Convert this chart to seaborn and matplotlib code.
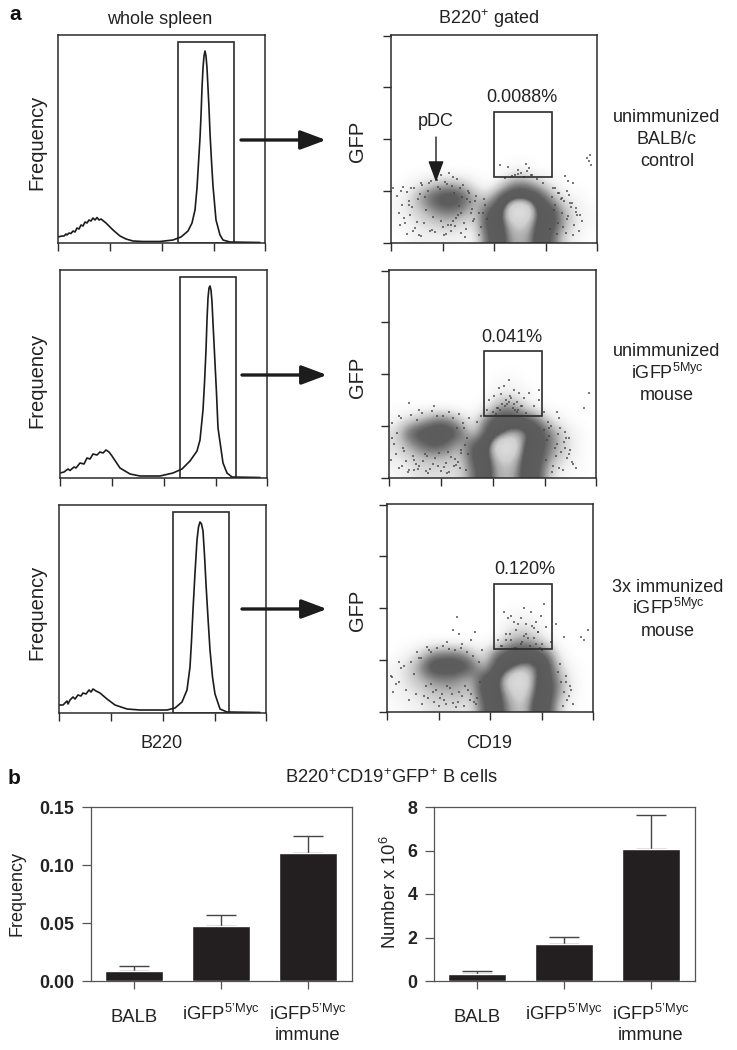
#!/usr/bin/env python3
"""Flow cytometry figure: B220 histograms, CD19/GFP density plots, summary bars."""

import matplotlib
matplotlib.use("Agg")
import matplotlib.pyplot as plt
import numpy as np
import seaborn as sns
from matplotlib.colors import LinearSegmentedColormap
from matplotlib.patches import Rectangle
from matplotlib.transforms import ScaledTranslation

# --- histograms (B220 channel, counts) ------------------------------------
HIST1_X = [0, 4, 6, 8, 9, 11, 13, 15, 17, 19, 21, 23, 25, 27, 29, 31, 33, 35, 37, 39, 41, 43, 48, 55, 62, 68, 75, 85,
           102, 115, 123, 130, 134, 137, 139, 140.5, 142, 143, 144, 145, 146, 147, 148, 149, 150, 151, 152, 153.5,
           155, 158, 162, 165, 172, 202]
HIST1_Y = [6, 7, 7, 9, 8, 10, 9.5, 12, 11, 15, 14, 18, 17, 21, 20, 23, 22, 25, 23, 25.5, 23, 24, 20, 13, 7, 4, 2, 1.5,
           1.5, 3, 6, 12, 20, 33, 55, 80, 105, 127, 155, 175, 187, 192, 187, 175, 155, 135, 110, 82,
           57, 23, 8, 3, 1, 0.5]
HIST2_X = [0, 4, 8, 10, 14, 16, 20, 24, 27, 30, 33, 37, 40, 43, 46, 49, 52, 60, 70, 80, 100, 113, 122, 130, 137, 140,
           143, 144.5, 146, 147, 148, 149, 150, 151, 152, 153, 154, 155, 156.5, 158, 163, 167, 172, 200]
HIST2_Y = [5, 6, 9, 7.5, 11, 10, 15, 14, 20, 19, 24, 23, 26, 25, 28, 26, 22, 10, 4, 2, 2, 5, 9, 17, 27, 38,
           68, 95, 128, 158, 180, 190, 192, 188, 176, 155, 135, 115, 85, 50, 15, 5, 1, 0.5]
HIST3_X = [0, 4, 8, 9, 11, 14, 16, 19, 22, 24, 27, 30, 32, 34, 37, 41, 48, 56, 68, 81, 108, 116, 123, 128, 131, 132.5,
           134, 136, 138, 139.5, 141, 142.5, 144, 145.5, 147, 149, 151, 153.5, 156, 161, 168, 201]
HIST3_Y = [8, 8, 12, 9, 13, 16, 14, 18, 17, 20, 19, 23, 21, 24, 22, 20, 14, 8, 4, 3, 3, 5, 11, 23, 46, 72,
           103, 140, 173, 186, 191, 189, 182, 158, 129, 95, 63, 36, 19, 4, 1, 0.5]
HIST_GATES = [(120, 176), (120, 176), (114, 170)]
HIST_GATE_TOP = 201

# --- density plots: rows from high GFP to low GFP, columns along CD19 ------
FLOW1_GRID = [
    [0, 0, 0, 0, 0, 0, 0, 0, 0, 0, 0, 0, 0, 0, 0, 0],
    [0, 0, 0, 0, 0, 0, 0, 0, 0, 0, 0, 0, 0, 0, 0, 0],
    [0, 0, 0, 0, 0, 0, 0, 0, 0, 0, 0, 0, 0, 0, 0, 0],
    [0, 0, 0, 0, 0, 0, 0, 0, 0, 0.8, 0.8, 0, 0, 0, 0, 0],
    [0, 0.5, 1.5, 2.5, 3, 2.5, 1, 0, 1.5, 4, 4, 2.5, 1, 0, 0, 0],
    [0.5, 1.5, 4, 5.5, 6.5, 5.5, 3, 2, 5.5, 7, 7, 6, 3, 1, 0.5, 0],
    [0.5, 1.5, 2.5, 4, 4.5, 4, 2, 5, 6.5, 10, 10, 6.5, 6, 2.5, 1, 0.3],
    [0.2, 0.8, 1.5, 2, 2.5, 1.5, 1.5, 6, 6.5, 8.4, 8.4, 6.5, 6, 3, 1, 0.3],
    [0, 0.5, 0.8, 0.8, 0.8, 0.8, 0.5, 5, 6.5, 7.8, 7.8, 6.5, 5, 1.5, 0.5, 0],
]
FLOW2_GRID = [
    [0, 0, 0, 0, 0, 0, 0, 0, 0, 0, 0, 0, 0, 0, 0, 0],
    [0, 0, 0, 0, 0, 0, 0, 0, 0.3, 0.5, 0, 0, 0, 0, 0, 0],
    [0, 0, 0, 0, 0, 0, 0, 0, 1, 1, 0.5, 0, 0, 0, 0, 0],
    [0, 0, 0, 0, 0, 0, 0, 0.5, 3.5, 3.5, 1.5, 0.3, 0, 0, 0, 0],
    [0.5, 1.5, 2.5, 4, 4, 2, 0.5, 4.5, 6, 6, 5.5, 4, 1, 0.5, 0, 0],
    [1.5, 5, 6, 6.5, 6.5, 5, 1.5, 5.5, 6.5, 7.7, 7.7, 6, 4, 1.5, 0.5, 0],
    [1.5, 3, 4.5, 5.5, 4.5, 2.5, 5.5, 6.5, 9.8, 9.8, 6.5, 6, 4, 2, 0.5, 0],
    [1, 1.5, 2.5, 2.5, 2.5, 2, 5.5, 6.5, 8.4, 8.4, 6.5, 6, 3, 1.5, 0.5, 0],
    [0.5, 1, 1.5, 1.5, 1.5, 1.5, 4.5, 6.5, 7.9, 7.9, 6.5, 5.5, 1.5, 0.5, 0.2, 0],
]
FLOW3_GRID = [
    [0, 0, 0, 0, 0, 0, 0, 0, 0, 0, 0, 0, 0, 0, 0, 0],
    [0, 0, 0, 0, 0, 0, 0, 0, 0, 0.3, 0.5, 0.3, 0, 0, 0, 0],
    [0, 0, 0, 0, 0, 0, 0, 0, 0, 1, 1.5, 1, 0, 0, 0, 0],
    [0, 0, 0, 0, 0, 0, 0, 0, 0.5, 2.5, 3.5, 2.5, 0.8, 0, 0, 0],
    [0, 0.5, 1.5, 3.5, 4, 4, 2.5, 1, 4.5, 6, 6, 6, 4.5, 0.5, 0, 0],
    [0.5, 1.5, 3.5, 6.5, 6.5, 6.5, 5.5, 2, 6, 6.5, 7.6, 7.5, 6, 1.5, 0.3, 0],
    [0.5, 1.5, 2.5, 3.5, 4, 3.5, 2.5, 6, 6.5, 9, 10, 7, 6, 3, 0.5, 0],
    [0.5, 1, 1.5, 2.5, 2.5, 3, 2, 6, 6.5, 8, 9, 6.8, 6.5, 3, 0.5, 0],
    [0.2, 0.5, 0.8, 1.5, 1.5, 1.5, 1, 5, 6.5, 7.5, 8.4, 6.5, 6, 1.5, 0.2, 0],
]
GRID_TOP = 117

# single events outside the dense clouds
FLOW1_DOTS_X = [110, 118, 128, 136, 139, 137, 125, 131, 142, 200, 199, 201, 197, 175, 178, 183, 50, 58, 62, 66, 40, 30,
                20, 10, 2, 168, 172, 180, 186, 190, 165, 177, 8, 14, 22, 72, 78, 84, 88, 60, 70, 82, 18, 28,
                6, 11, 16, 19, 23, 27, 31, 35, 38, 42, 46, 50, 54, 57, 61, 65, 69, 73, 77, 81, 85,
                9, 13, 18, 24, 29, 33, 37, 41, 47, 52, 56, 60, 63, 67, 71, 75, 79, 83,
                12, 21, 26, 34, 44, 49, 55, 64, 68, 74, 80, 16, 30, 39, 53, 62, 70, 76,
                162, 165, 169, 172, 174, 177, 181, 184, 187, 189, 192, 160, 164, 167, 171, 176, 179, 183, 186,
                163, 168, 173, 178, 182, 92, 90, 94, 96, 88, 93, 115, 122, 128, 134, 141, 147, 153]
FLOW1_DOTS_Y = [78, 76, 73, 79, 75, 72, 68, 70, 68, 88, 82, 78, 85, 67, 62, 60, 68, 70, 66, 64, 62, 60,
                55, 52, 55, 50, 45, 40, 35, 28, 55, 52, 30, 20, 12, 58, 50, 42, 30, 18, 10, 22, 38, 8,
                47, 38, 51, 28, 55, 44, 58, 33, 60, 26, 63, 22, 61, 18, 57, 25, 55, 20, 52, 34, 47,
                18, 25, 42, 15, 49, 20, 52, 13, 56, 16, 59, 12, 50, 28, 46, 14, 41, 24,
                56, 36, 21, 46, 11, 54, 9, 17, 37, 6, 30, 9, 7, 12, 8, 22, 30, 44,
                46, 38, 50, 30, 42, 24, 36, 18, 28, 12, 22, 14, 33, 9, 44, 10, 48, 8, 31,
                55, 20, 16, 27, 40, 30, 16, 38, 24, 8, 44, 65, 67, 69, 66, 68, 64, 60]
FLOW2_DOTS_X = [120, 115, 125, 110, 130, 105, 135, 100, 112, 122, 128, 140, 145, 150, 98, 118, 132, 108, 126, 60, 70,
                45, 30, 20, 80, 88, 75, 92, 160, 170, 180, 195, 200, 168, 176, 150, 155, 10, 3, 25, 65, 72,
                3, 7, 12, 17, 22, 27, 33, 38, 43, 49, 54, 59, 64, 69, 74, 79,
                5, 10, 15, 20, 25, 30, 36, 41, 46, 52, 57, 62, 67, 72, 77,
                8, 14, 19, 24, 29, 34, 39, 44, 50, 55, 60, 66, 71, 76, 2, 13, 28, 37, 48, 58, 68, 78,
                155, 158, 162, 166, 169, 172, 175, 178, 181, 184, 187, 157, 160, 164, 168, 171, 174, 177, 180, 183,
                159, 163, 167, 170, 176, 104, 109, 113, 117, 121, 125, 129, 133, 137, 107, 111, 116, 120, 124, 128, 132]
FLOW2_DOTS_Y = [98, 92, 88, 90, 85, 82, 80, 78, 84, 80, 76, 85, 72, 78, 68, 74, 72, 70, 68, 66, 64,
                72, 68, 75, 60, 56, 50, 62, 50, 60, 40, 70, 85, 66, 30, 88, 66, 62, 40, 8, 12, 25,
                55, 24, 60, 17, 63, 14, 65, 22, 67, 12, 62, 26, 60, 16, 55, 24,
                34, 10, 27, 8, 18, 12, 24, 9, 20, 7, 15, 21, 13, 28, 8,
                45, 30, 6, 22, 9, 17, 5, 14, 25, 11, 6, 19, 10, 33, 18, 12, 58, 7, 62, 5, 50, 40,
                48, 38, 52, 30, 44, 26, 36, 20, 28, 14, 10, 18, 42, 12, 34, 50, 8, 40, 24, 16,
                56, 6, 22, 10, 46, 66, 70, 74, 78, 82, 74, 68, 72, 65, 64, 68, 72, 76, 70, 66, 62]
FLOW3_DOTS_X = [118, 125, 135, 140, 145, 150, 155, 158, 160, 165, 130, 120, 128, 138, 148, 152, 142, 112, 115, 170, 178,
                195, 198, 202, 70, 66, 72, 88, 84, 75, 60, 95, 40, 30, 12, 5, 180, 185, 150, 156, 125, 135,
                4, 9, 14, 19, 24, 29, 34, 39, 44, 50, 56, 62, 68, 74, 80, 86, 92,
                6, 12, 17, 22, 27, 32, 37, 42, 47, 53, 59, 65, 71, 77, 83, 89,
                35, 41, 46, 52, 57, 63, 69, 75, 81, 87, 93, 44, 49, 55, 60, 66, 72, 78, 84, 90,
                172, 175, 178, 181, 184, 187, 174, 177, 180, 183,
                116, 120, 124, 128, 132, 136, 140, 144, 148, 152, 156, 122, 130, 138, 146, 154]
FLOW3_DOTS_Y = [100, 96, 94, 88, 100, 90, 96, 108, 85, 70, 82, 78, 90, 104, 84, 80, 74, 72, 66, 88, 75,
                75, 72, 82, 95, 82, 78, 80, 72, 68, 70, 62, 65, 60, 50, 35, 30, 22, 68, 62, 72, 68,
                36, 28, 44, 22, 50, 18, 54, 26, 60, 64, 66, 63, 62, 64, 60, 56, 50,
                20, 30, 46, 12, 38, 54, 16, 62, 10, 14, 8, 18, 10, 6, 12, 8,
                8, 14, 20, 6, 12, 24, 5, 16, 22, 10, 30, 28, 22, 18, 26, 9, 20, 26, 18, 14,
                40, 30, 20, 12, 26, 8, 48, 6, 36, 16,
                66, 72, 78, 64, 88, 70, 78, 66, 74, 80, 68, 94, 64, 76, 86, 64]
FLOW_GATES = [(104, 162, 66, 131), (95, 153, 62, 127), (108, 166, 63, 128)]
GATE_LABELS = ["0.0088%", "0.041%", "0.120%"]

DENSITY_LEVELS = [0, 1, 2.5, 4, 5, 7, 7.7, 8.3, 9.2, 10]
DENSITY_COLORS = ["#ffffff", "#eeeeee", "#c0c0c0", "#808080", "#5e5e5e", "#5a5a5a",
                  "#a8a8a8", "#cfcfcf", "#dcdcdc", "#7a7a7a"]

# --- summary bars ----------------------------------------------------------
BAR_LABELS = ["BALB", "iGFP$^{5\u2019Myc}$", "iGFP$^{5\u2019Myc}$\nimmune"]
FREQ_VALUES = [0.009, 0.047, 0.110]
FREQ_UPPER = [0.013, 0.057, 0.125]
FREQ_TICKS = [0.0, 0.05, 0.10, 0.15]
FREQ_TICK_LABELS = ["0.00", "0.05", "0.10", "0.15"]
NUM_VALUES = [0.33, 1.70, 6.05]
NUM_UPPER = [0.48, 2.03, 7.65]
NUM_TICKS = [0, 2, 4, 6, 8]

DARK = "#2b2b2b"
W, H = 737, 1050

sns.set_theme(style="ticks")
plt.rcParams["font.family"] = ["Liberation Sans", "DejaVu Sans"]
plt.rcParams["mathtext.fontset"] = "custom"
plt.rcParams["mathtext.rm"] = "Liberation Sans"
plt.rcParams["mathtext.default"] = "regular"
plt.rcParams["text.color"] = "#222222"


def px_axes(fig, left, top, right, bottom):
    """Axes placed by its pixel box (y counted from the top of the picture)."""
    return fig.add_axes([left / W, 1 - bottom / H, (right - left) / W, (bottom - top) / H])


def style_frame(ax, color=DARK, lw=1.1):
    for spine in ax.spines.values():
        spine.set_visible(True)
        spine.set_color(color)
        spine.set_linewidth(lw)


def plot_hist(fig, box, xs, ys, gate):
    ax = px_axes(fig, *box)
    sns.lineplot(x=xs, y=ys, ax=ax, color="#1c1c1c", linewidth=1.2, estimator=None, sort=False)
    ax.add_patch(Rectangle((gate[0], 0), gate[1] - gate[0], HIST_GATE_TOP, fill=False, edgecolor=DARK, lw=1.2))
    ax.set_xlim(0, 207)
    ax.set_ylim(0, 208)
    ax.set_xticks([0, 52, 104, 156, 207])
    ax.set_xticklabels([])
    ax.set_yticks([])
    ax.tick_params(axis="x", length=5.8, width=1.0, color=DARK)
    style_frame(ax)
    return ax


def plot_flow(fig, box, grid, dots_x, dots_y, gate):
    ax = px_axes(fig, *box)
    levels = np.array(DENSITY_LEVELS, dtype=float) / DENSITY_LEVELS[-1]
    cmap = LinearSegmentedColormap.from_list("flow", list(zip(levels, DENSITY_COLORS)))
    ax.imshow(grid, extent=(0, 207, 0, GRID_TOP), cmap=cmap, vmin=0, vmax=10, aspect="auto",
              interpolation="bicubic", interpolation_stage="data")
    sns.scatterplot(x=dots_x, y=dots_y, ax=ax, s=3, color="#444444", alpha=0.7, linewidth=0, marker="s")
    ax.add_patch(Rectangle((gate[0], gate[2]), gate[1] - gate[0], gate[3] - gate[2],
                           fill=False, edgecolor=DARK, lw=1.2, zorder=5))
    ax.set_xlim(0, 207)
    ax.set_ylim(0, 208)
    ax.set_xticks([0, 52, 104, 156, 207])
    ax.set_yticks([0, 52, 104, 156, 207])
    ax.set_xticklabels([])
    ax.set_yticklabels([])
    ax.tick_params(length=6, width=1.0, color=DARK)
    style_frame(ax)
    return ax


def plot_bars(fig, box, values, upper, ticks, tick_labels, ymax):
    ax = px_axes(fig, *box)
    positions = list(range(len(values)))
    err = [v * 0 for v in values], [u - v for u, v in zip(upper, values)]
    sns.barplot(x=BAR_LABELS, y=values, ax=ax, color="#231f20", saturation=1, width=0.667, zorder=3)
    ax.errorbar(positions, values, yerr=err, fmt="none", ecolor="#444444", elinewidth=1.0,
                capsize=10.8, capthick=1.0, zorder=1)
    ax.set_xlim(-0.494, 2.506)
    ax.set_ylim(0, ymax)
    ax.set_yticks(ticks)
    ax.set_yticklabels(tick_labels, fontsize=12.8, fontweight="bold", color="#222222")
    ax.set_xticks(positions)
    ax.set_xticklabels(BAR_LABELS, fontsize=13.3, color="#222222")
    ax.tick_params(axis="y", length=6.5, width=0.9, color="#555555", pad=5.5)
    ax.tick_params(axis="x", length=5.8, width=0.9, color="#555555", pad=11)
    balb = ax.get_xticklabels()[0]
    balb.set_transform(balb.get_transform() + ScaledTranslation(0, -0.05, fig.dpi_scale_trans))
    ax.set_xlabel("")
    ax.set_ylabel("")
    style_frame(ax, color="#555555", lw=0.9)
    return ax


def main():
    fig = plt.figure(figsize=(W / 100, H / 100), dpi=100, facecolor="white")

    hist_boxes = [(58, 35, 265, 243), (60, 270, 267, 478), (59, 505, 266, 713)]
    flow_boxes = [(391, 35, 597, 243), (389, 270, 596, 478), (387, 504, 593, 712)]
    plot_hist(fig, hist_boxes[0], HIST1_X, HIST1_Y, HIST_GATES[0])
    plot_hist(fig, hist_boxes[1], HIST2_X, HIST2_Y, HIST_GATES[1])
    plot_hist(fig, hist_boxes[2], HIST3_X, HIST3_Y, HIST_GATES[2])
    plot_flow(fig, flow_boxes[0], FLOW1_GRID, FLOW1_DOTS_X, FLOW1_DOTS_Y, FLOW_GATES[0])
    plot_flow(fig, flow_boxes[1], FLOW2_GRID, FLOW2_DOTS_X, FLOW2_DOTS_Y, FLOW_GATES[1])
    plot_flow(fig, flow_boxes[2], FLOW3_GRID, FLOW3_DOTS_X, FLOW3_DOTS_Y, FLOW_GATES[2])

    plot_bars(fig, (91, 807, 352, 981), FREQ_VALUES, FREQ_UPPER, FREQ_TICKS, FREQ_TICK_LABELS, 0.15)
    plot_bars(fig, (434, 807, 695, 981), NUM_VALUES, NUM_UPPER, NUM_TICKS, [str(t) for t in NUM_TICKS], 8)

    # overlay in picture pixels for the annotation layer
    over = fig.add_axes([0, 0, 1, 1], facecolor="none")
    over.set_xlim(0, W)
    over.set_ylim(H, 0)
    over.axis("off")

    def label(x, y, s, size=13, **kw):
        over.text(x, y, s, fontsize=size, ha="center", va="center", **kw)

    label(15, 15, "a", size=15, fontweight="bold", color="#111111")
    label(14, 778, "b", size=15, fontweight="bold", color="#111111")
    label(160, 19, "whole spleen")
    label(489, 19, "B220$^{+}$ gated")
    label(162, 743, "B220")
    label(489, 743, "CD19")
    for y in (142, 380, 612):
        label(37, y, "Frequency", size=14.5, rotation=90)
    for y in (141, 377, 610):
        label(358, y, "GFP", size=14.5, rotation=90)
    for (x, y), s in zip([(522, 97), (512, 337), (525, 569)], GATE_LABELS):
        label(x, y, s)
    label(436, 122, "pDC")
    over.annotate("", xy=(436, 182), xytext=(436, 137),
                  arrowprops=dict(arrowstyle="-|>,head_length=1.3,head_width=0.48", mutation_scale=10,
                                  lw=1.0, color="#1c1c1c", shrinkA=0, shrinkB=0))
    for x0, x1, y in [(241, 326, 140), (242, 327, 375), (242, 327, 609)]:
        over.annotate("", xy=(x1, y), xytext=(x0, y),
                      arrowprops=dict(arrowstyle="-|>,head_length=1.55,head_width=0.58", mutation_scale=10,
                                      lw=2.4, color="#1c1c1c", shrinkA=0, shrinkB=0))

    label(667, 118, "unimmunized")
    label(667, 140, "BALB/c")
    label(667, 162, "control")
    label(667, 352, "unimmunized")
    label(667, 373, "iGFP$^{5Myc}$")
    label(667, 396, "mouse")
    label(668, 587, "3x immunized")
    label(668, 608, "iGFP$^{5Myc}$")
    label(668, 631, "mouse")

    label(391, 778, "B220$^{+}$CD19$^{+}$GFP$^{+}$ B cells", size=13.2)
    label(17, 893, "Frequency", size=13, rotation=90)
    label(390, 892, "Number x 10$^{6}$", size=13.2, rotation=90)

    fig.savefig("out.png", dpi=100)
    plt.close(fig)


if __name__ == "__main__":
    main()
